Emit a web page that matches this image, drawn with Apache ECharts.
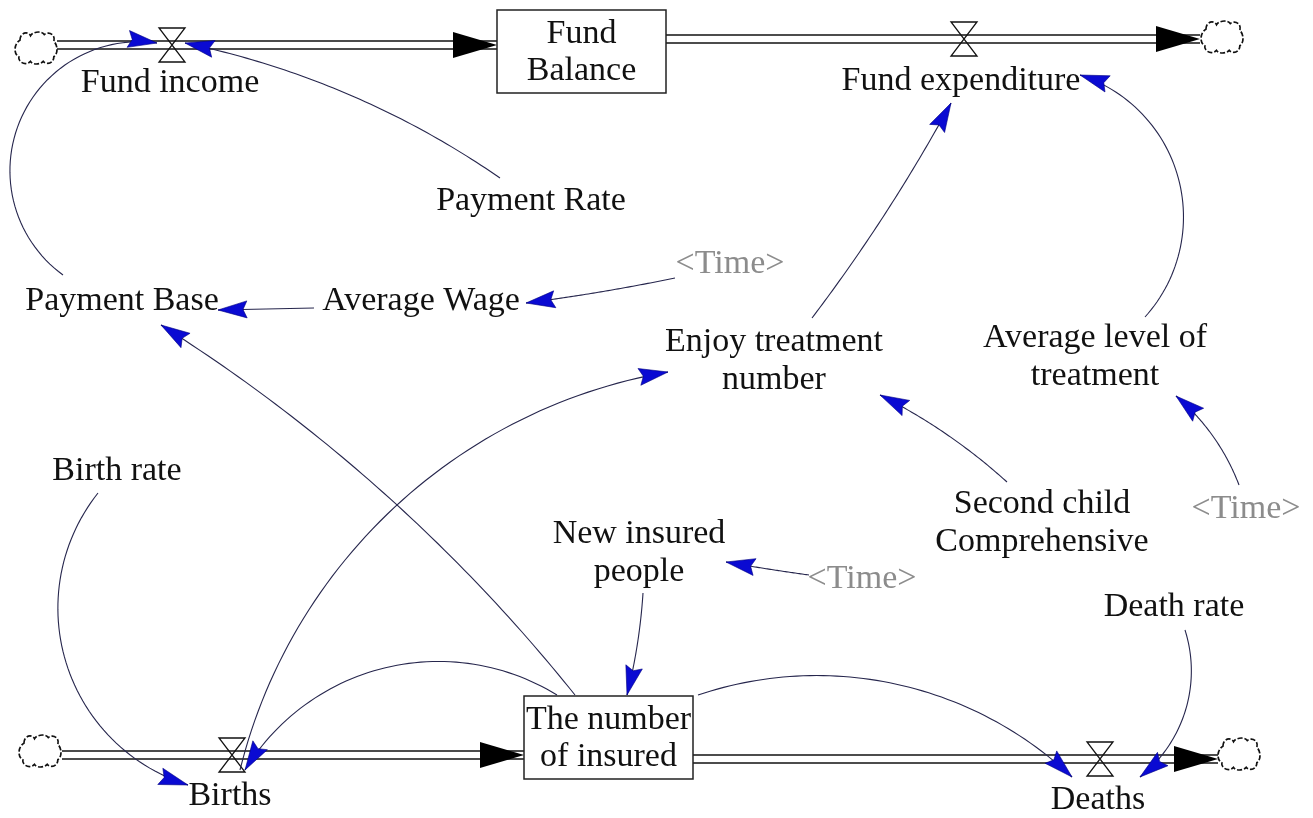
<!DOCTYPE html>
<html>
<head>
<meta charset="utf-8">
<title>Medical insurance fund - stock and flow diagram</title>
<script src="https://cdn.jsdelivr.net/npm/echarts@6/dist/echarts.min.js"></script>
<style>
  html, body { margin: 0; padding: 0; background: #fff; }
  #chart { width: 1313px; height: 818px; }
</style>
</head>
<body>
<div id="chart"></div>
<script>
// Variables (auxiliaries, rates and <Time> shadow variables), label centres
const varNames = [
  "Fund income", "Fund expenditure", "Payment Rate", "<Time>", "Payment Base",
  "Average Wage", "Enjoy treatment\nnumber", "Average level of\ntreatment",
  "Birth rate", "New insured\npeople", "<Time>", "Second child\nComprehensive",
  "<Time>", "Death rate", "Births", "Deaths",
];
const varX = [170, 961, 531, 730, 122, 421, 774, 1095, 117, 639, 862, 1042, 1246, 1174, 230, 1098];
const varY = [83, 81, 201, 264, 301, 301, 361, 357, 471, 553, 579, 523, 509, 607, 796, 800];
const varShadow = [false, false, false, true, false, false, false, false, false, false, true, false, true, false, false, false];

// Stocks (boxes)
const stockNames = ["Fund\nBalance", "The number\nof insured"];
const stockX0 = [497, 524];
const stockX1 = [666, 693];
const stockY0 = [10, 696];
const stockY1 = [93, 779];

// Flow pipes, valves and clouds
const pipeX0 = [57, 666, 62, 693];
const pipeX1 = [497, 1200, 524, 1218];
const pipeY = [45, 39, 755, 759];
const valveX = [172, 964, 232, 1100];
const valveY = [45, 39, 755, 759];
const cloudX = [36, 1222, 40, 1239];
const cloudY = [48, 37, 751, 754];

// Causal links: start, a point on the arc, arrow tip
const linkStart = [[63, 275], [500, 178], [314, 308], [675, 278], [575, 695], [240, 770], [812, 318], [1145, 317],
  [1007, 482], [1239, 485], [809, 575], [643, 593], [98, 493], [557, 695], [698, 695], [1185, 630]];
const linkVia = [[10, 175], [350, 95], [266, 309], [600, 292], [397, 505], [397, 505], [883, 217], [1183, 205],
  [963, 446], [1222, 450], [768, 569], [638, 640], [58, 615], [367, 673], [900, 685], [1190, 690]];
const linkEnd = [[157, 43], [185, 43], [218, 310], [526, 303], [161, 325], [668, 372], [951, 103], [1080, 75],
  [880, 395], [1176, 396], [726, 562], [627, 695], [188, 785], [245, 770], [1072, 777], [1140, 777]];

const FONT = "Liberation Serif";
const FONT_SIZE = 33;
const TEXT_STRETCH = 1.03;
const INK = "#111";
const LINK_COLOR = "#26264d";
const ARROW_BLUE = "#0a0ad2";

function arrowHead(tip, dir, len, half, notch) {
  let bx = tip[0] - dir[0] * len;
  let by = tip[1] - dir[1] * len;
  let px = -dir[1], py = dir[0];
  return [
    tip,
    [bx + px * half, by + py * half],
    [bx + dir[0] * notch, by + dir[1] * notch],
    [bx - px * half, by - py * half],
  ];
}

// circle through three points, null when they are (nearly) on a line
function circleOf(a, b, c) {
  let d = 2 * (a[0] * (b[1] - c[1]) + b[0] * (c[1] - a[1]) + c[0] * (a[1] - b[1]));
  if (Math.abs(d) < 1e-6) return null;
  let a2 = a[0] * a[0] + a[1] * a[1];
  let b2 = b[0] * b[0] + b[1] * b[1];
  let c2 = c[0] * c[0] + c[1] * c[1];
  let ux = (a2 * (b[1] - c[1]) + b2 * (c[1] - a[1]) + c2 * (a[1] - b[1])) / d;
  let uy = (a2 * (c[0] - b[0]) + b2 * (a[0] - c[0]) + c2 * (b[0] - a[0])) / d;
  let r = Math.hypot(a[0] - ux, a[1] - uy);
  if (r > 6000) return null;
  return { x: ux, y: uy, r: r };
}

function arcPath(s, m, e) {
  let c = circleOf(s, m, e);
  if (!c) {
    let len = Math.hypot(e[0] - s[0], e[1] - s[1]);
    return { points: [s, e], dir: [(e[0] - s[0]) / len, (e[1] - s[1]) / len] };
  }
  let TWO_PI = Math.PI * 2;
  let a0 = Math.atan2(s[1] - c.y, s[0] - c.x);
  let am = Math.atan2(m[1] - c.y, m[0] - c.x);
  let a1 = Math.atan2(e[1] - c.y, e[0] - c.x);
  let d1 = ((a1 - a0) % TWO_PI + TWO_PI) % TWO_PI;
  let dm = ((am - a0) % TWO_PI + TWO_PI) % TWO_PI;
  let sweep = dm < d1 ? d1 : d1 - TWO_PI;
  let points = [];
  let n = 60;
  for (let k = 0; k <= n; k++) {
    let t = a0 + (sweep * k) / n;
    points.push([c.x + c.r * Math.cos(t), c.y + c.r * Math.sin(t)]);
  }
  let sign = sweep > 0 ? 1 : -1;
  let dir = [-Math.sin(a0 + sweep) * sign, Math.cos(a0 + sweep) * sign];
  return { points: points, dir: dir };
}

function labelText(x, y, text, fill, lineHeight) {
  return {
    type: "text",
    x: x,
    y: y,
    scaleX: TEXT_STRETCH,
    style: {
      text: text,
      fill: fill,
      fontSize: FONT_SIZE,
      fontFamily: FONT,
      align: "center",
      verticalAlign: "middle",
      lineHeight: lineHeight,
    },
  };
}

const cloudPath =
  "M6 10 C6 3 14 2 16 6 C19 2 27 2 29 5 C33 2 40 5 38 11 C42 14 42 22 38 24 " +
  "C38 30 31 31 28 28 C25 31 18 31 16 28 C12 32 4 29 5 24 C0 22 0 13 6 10 Z";

const chart = echarts.init(document.getElementById("chart"));

const option = {
  animation: false,
  backgroundColor: "#fff",
  grid: { left: 0, right: 0, top: 0, bottom: 0 },
  xAxis: { type: "value", min: 0, max: 1313, show: false },
  yAxis: { type: "value", min: 0, max: 818, inverse: true, show: false },
  series: [
    {
      // flow pipes with their black arrowheads
      type: "custom",
      silent: true,
      data: pipeY.map((y, i) => [pipeX0[i], y, pipeX1[i]]),
      renderItem: (params, api) => {
        let a = api.coord([api.value(0), api.value(1)]);
        let b = api.coord([api.value(2), api.value(1)]);
        let gap = 4;
        return {
          type: "group",
          children: [
            { type: "line", shape: { x1: a[0], y1: a[1] - gap, x2: b[0], y2: b[1] - gap }, style: { stroke: INK, lineWidth: 1.6 } },
            { type: "line", shape: { x1: a[0], y1: a[1] + gap, x2: b[0], y2: b[1] + gap }, style: { stroke: INK, lineWidth: 1.6 } },
            { type: "polygon", shape: { points: arrowHead(b, [1, 0], 44, 13, 0) }, style: { fill: "#000" } },
          ],
        };
      },
    },
    {
      // valves
      type: "custom",
      silent: true,
      data: valveX.map((x, i) => [x, valveY[i]]),
      renderItem: (params, api) => {
        let p = api.coord([api.value(0), api.value(1)]);
        let w = 13, h = 17;
        return {
          type: "polygon",
          shape: { points: [[p[0] - w, p[1] - h], [p[0] + w, p[1] - h], [p[0] - w, p[1] + h], [p[0] + w, p[1] + h]] },
          style: { fill: "none", stroke: INK, lineWidth: 1.3 },
        };
      },
    },
    {
      // clouds (sources and sinks)
      type: "custom",
      silent: true,
      data: cloudX.map((x, i) => [x, cloudY[i]]),
      renderItem: (params, api) => {
        let p = api.coord([api.value(0), api.value(1)]);
        return {
          type: "path",
          shape: { pathData: cloudPath, x: p[0] - 21, y: p[1] - 16, width: 42, height: 32, layout: "cover" },
          style: { fill: "#fff", stroke: INK, lineWidth: 1.7, lineDash: [5, 2] },
        };
      },
    },
    {
      // stocks
      type: "custom",
      silent: true,
      data: stockX0.map((x, i) => [x, stockY0[i], stockX1[i], stockY1[i]]),
      renderItem: (params, api) => {
        let a = api.coord([api.value(0), api.value(1)]);
        let b = api.coord([api.value(2), api.value(3)]);
        return {
          type: "group",
          children: [
            {
              type: "rect",
              shape: { x: a[0], y: a[1], width: b[0] - a[0], height: b[1] - a[1] },
              style: { fill: "#fff", stroke: "#222", lineWidth: 1.5 },
            },
            labelText((a[0] + b[0]) / 2, (a[1] + b[1]) / 2 + 1, stockNames[params.dataIndex], INK, 37),
          ],
        };
      },
    },
    {
      // causal links: thin arcs with blue arrowheads
      type: "custom",
      silent: true,
      data: linkStart.map((s, i) => [s[0], s[1], linkVia[i][0], linkVia[i][1], linkEnd[i][0], linkEnd[i][1]]),
      renderItem: (params, api) => {
        let s = api.coord([api.value(0), api.value(1)]);
        let m = api.coord([api.value(2), api.value(3)]);
        let e = api.coord([api.value(4), api.value(5)]);
        let arc = arcPath(s, m, e);
        return {
          type: "group",
          children: [
            { type: "polyline", shape: { points: arc.points }, style: { fill: "none", stroke: LINK_COLOR, lineWidth: 1.1 } },
            { type: "polygon", shape: { points: arrowHead(e, arc.dir, 29, 8.5, 4) }, style: { fill: ARROW_BLUE, stroke: "#000080", lineWidth: 0.6 } },
          ],
        };
      },
    },
    {
      // variable names
      type: "custom",
      silent: true,
      data: varX.map((x, i) => [x, varY[i]]),
      renderItem: (params, api) => {
        let p = api.coord([api.value(0), api.value(1)]);
        let i = params.dataIndex;
        return labelText(p[0], p[1], varNames[i], varShadow[i] ? "#8c8c8c" : INK, 38);
      },
    },
  ],
};

chart.setOption(option);
</script>
</body>
</html>
